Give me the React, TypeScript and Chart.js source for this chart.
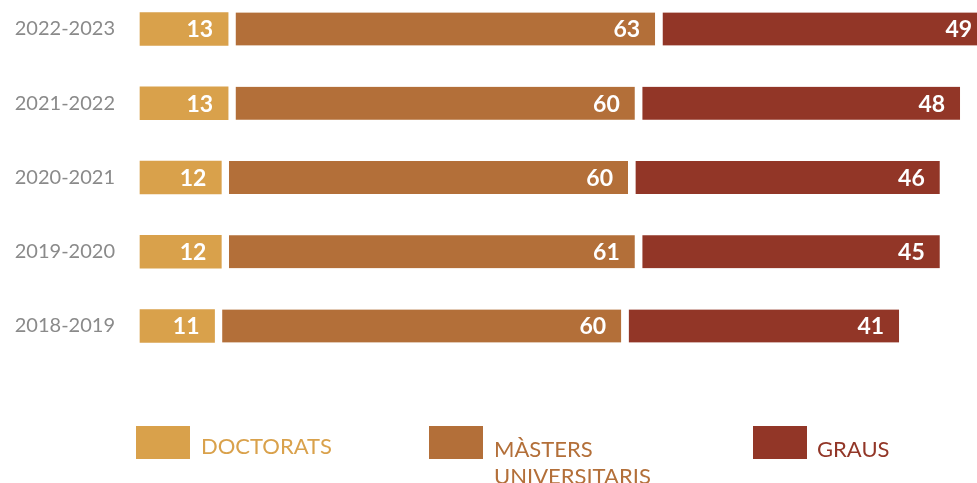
import React, { useEffect, useRef } from "react";
import { Chart, registerables } from "chart.js";

Chart.register(...registerables);

const categories = ["2022-2023", "2021-2022", "2020-2021", "2019-2020", "2018-2019"];
const doctorats = [13, 13, 12, 12, 11];
const masters = [63, 60, 60, 61, 60];
const graus = [49, 48, 46, 45, 41];
const seriesNames = ["DOCTORATS", "MÀSTERS UNIVERSITARIS", "GRAUS"];
const colors = ["#D9A14B", "#B36F39", "#923627"];
const xMax = 123.5;

const FONT = "Lato, 'Open Sans', sans-serif";
const SHIFT = 8;

const valueLabels = {
  id: "valueLabels",
  afterDatasetsDraw(chart: any) {
    const ctx = chart.ctx;
    ctx.save();
    ctx.font = `bold 23px ${FONT}`;
    ctx.fillStyle = "#ffffff";
    ctx.textAlign = "right";
    ctx.textBaseline = "middle";
    chart.data.datasets.forEach((ds: any, di: number) => {
      const meta = chart.getDatasetMeta(di);
      meta.data.forEach((el: any, i: number) => {
        ctx.fillText(String(ds.data[i]), el.x - 15, el.y + 1);
      });
    });
    ctx.restore();
  },
};

export default function App() {
  const ref = useRef<HTMLCanvasElement>(null);
  useEffect(() => {
    if (!ref.current) return;
    const gapBorder = { left: 8, right: 0, top: 0, bottom: 0 };
    const chart = new Chart(ref.current, {
      type: "bar",
      data: {
        labels: categories,
        datasets: [
          { label: seriesNames[0], data: doctorats, backgroundColor: colors[0], borderWidth: 0, barThickness: 33, clip: false } as any,
          { label: seriesNames[1], data: masters, backgroundColor: colors[1], borderColor: "#ffffff", borderWidth: gapBorder, borderSkipped: false, barThickness: 33, clip: false } as any,
          { label: seriesNames[2], data: graus, backgroundColor: colors[2], borderColor: "#ffffff", borderWidth: gapBorder, borderSkipped: false, barThickness: 33, clip: false } as any,
        ],
      },
      options: {
        indexAxis: "y",
        animation: false,
        responsive: false,
        layout: { padding: { top: 20, bottom: 157, left: 0, right: 0 } },
        plugins: { legend: { display: false }, tooltip: { enabled: false } },
        scales: {
          x: { stacked: true, min: 0, max: xMax, display: false },
          y: {
            stacked: true,
            offset: false,
            grid: { display: false, drawTicks: false },
            border: { display: false },
            ticks: { padding: 25, color: "#8a8a8a", font: { family: FONT, size: 20 } },
            afterFit: (scale: any) => {
              scale.width = 140;
            },
          },
        },
      },
      plugins: [valueLabels],
    });
    return () => chart.destroy();
  }, []);

  const legendItem = (i: number, boxLeft: number, textLeft: number, lines: string[], textTop: number) => (
    <React.Fragment key={i}>
      <div style={{ position: "absolute", left: boxLeft, top: 426, width: 54, height: 33, background: colors[i] }} />
      <div
        style={{
          position: "absolute",
          left: textLeft,
          top: textTop,
          color: colors[i],
          fontFamily: FONT,
          fontSize: 22,
          lineHeight: "27px",
          whiteSpace: "nowrap",
        }}
      >
        {lines.map((l, k) => (
          <div key={k}>{l}</div>
        ))}
      </div>
    </React.Fragment>
  );

  return (
    <div style={{ position: "absolute", left: 0, top: 0, width: 977, height: 483, overflow: "hidden", background: "#fff" }}>
      <canvas
        ref={ref}
        width={977}
        height={483 + SHIFT}
        style={{ position: "absolute", left: 0, top: -SHIFT, width: 977, height: 483 + SHIFT }}
      />
      {legendItem(0, 136, 201, ["DOCTORATS"], 432)}
      {legendItem(1, 429, 494, ["MÀSTERS", "UNIVERSITARIS"], 435)}
      {legendItem(2, 753, 817, ["GRAUS"], 435)}
    </div>
  );
}
